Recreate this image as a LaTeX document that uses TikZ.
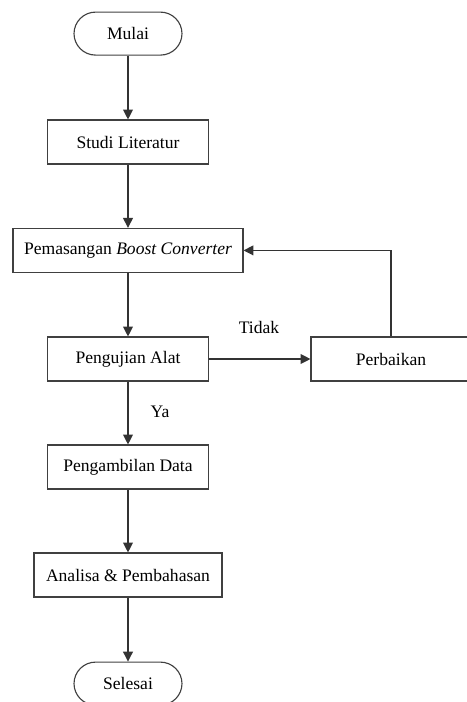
\documentclass[tikz,border=0pt]{standalone}
\usepackage{fontspec}
\setmainfont{Liberation Serif}
\usetikzlibrary{arrows.meta}
\usetikzlibrary{positioning}

\begin{document}
\begin{tikzpicture}[
            font=\fontsize{12.5}{15}\selectfont,
            >={Triangle[length=7pt, width=7pt]},
            block/.style={rectangle, draw=black!75, line width=0.8pt, minimum width=4.025cm, minimum height=1.1cm, inner sep=2pt},
            term/.style={rectangle, rounded corners=0.54cm, draw=black!75, line width=0.8pt, minimum width=2.7cm, minimum height=1.075cm},
            flow/.style={->, draw=black!80, line width=0.8pt}
        ]
            \useasboundingbox (0,0) rectangle (11.65,-17.55);

            \node[term] (mulai) at (3.2,-0.84) {Mulai};
            \node[block] (studi) at (3.2,-3.55) {Studi Literatur};
            \node[block, minimum width=5.75cm] (pasang) at (3.2,-6.26) {Pemasangan \textit{Boost Converter}};
            \node[block] (uji) at (3.2,-8.975) {Pengujian Alat};
            \node[block, minimum width=4cm] (baik) at (9.775,-8.975) {Perbaikan};
            \node[block] (data) at (3.2,-11.675) {Pengambilan Data};
            \node[block, minimum width=4.7cm] (analisa) at (3.2,-14.375) {Analisa \& Pembahasan};
            \node[term] (selesai) at (3.2,-17.09) {Selesai};

            \draw[flow] (mulai) -- (studi);
            \draw[flow] (studi) -- (pasang);
            \draw[flow] (pasang) -- (uji);
            \draw[flow] (uji) -- (baik);
            \draw[flow] (baik.north) |- (pasang.east);
            \draw[flow] (uji) -- (data);
            \draw[flow] (data) -- (analisa);
            \draw[flow] (analisa) -- (selesai);

            \node (tidak) at (6.475,-8.175) {Tidak};
            \node (ya) at (4.0,-10.3) {Ya};
        \end{tikzpicture}
\end{document}
